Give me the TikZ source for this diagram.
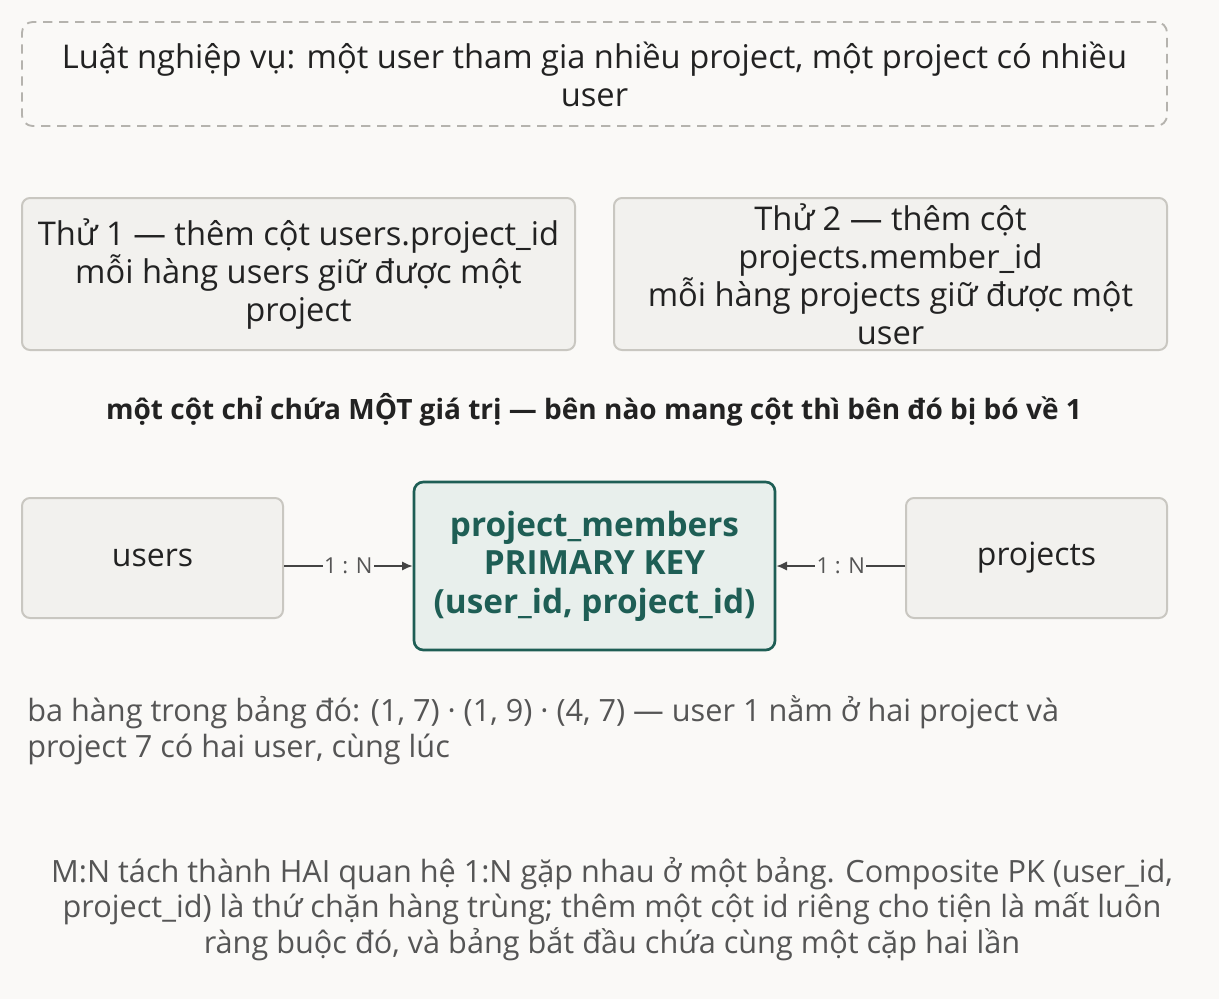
\documentclass[tikz,border=0pt]{standalone}
\usepackage{fontspec}
\setmainfont{Open Sans}
\usetikzlibrary{arrows.meta}
\definecolor{bg}{HTML}{FAF9F7}
\definecolor{bx}{HTML}{F2F1EE}
\definecolor{bd}{HTML}{C9C7C1}
\definecolor{tl}{HTML}{1E5E55}
\definecolor{tf}{HTML}{E8EFEC}
\definecolor{tx}{HTML}{222222}
\definecolor{gr}{HTML}{555555}
\begin{document}
\begin{tikzpicture}[x=0.75pt,y=-0.75pt,
 box/.style={draw=bd,line width=1.5pt,fill=bx,rounded corners=6pt,text=tx,align=center},
 arr/.style={draw=gr!80!black,line width=1.3pt,-{Latex[length=8pt,width=7pt]}},
 lbl/.style={font=\fontsize{16.5}{19}\selectfont,text=gr,fill=bg,inner sep=1pt}]
\fill[bg] (0,0) rectangle (1219,999);
\useasboundingbox (0,0) rectangle (1219,999);
\node[draw=bd!90!black,dash pattern=on 7pt off 5pt,line width=1.4pt,rounded corners=8pt,minimum width=1145*0.75pt,minimum height=104*0.75pt,align=center,font=\fontsize{24.5}{28.5}\selectfont,text=tx] (rule) at (594.5,74) {Luật nghiệp vụ: một user tham gia nhiều project, một project có nhiều\\user};
\node[box,minimum width=553*0.75pt,minimum height=152*0.75pt,font=\fontsize{24.5}{28.5}\selectfont] (t1) at (298.5,274) {Thử 1 — thêm cột users.project\_id\\mỗi hàng users giữ được một\\project};
\node[box,minimum width=553*0.75pt,minimum height=152*0.75pt,font=\fontsize{24.5}{28.5}\selectfont] (t2) at (890.5,274) {Thử 2 — thêm cột\\projects.member\_id\\mỗi hàng projects giữ được một\\user};
\node[font=\bfseries\fontsize{21}{24}\selectfont,text=tx] (note) at (594,410) {một cột chỉ chứa MỘT giá trị — bên nào mang cột thì bên đó bị bó về 1};
\node[box,minimum width=261*0.75pt,minimum height=120*0.75pt,font=\fontsize{24}{28}\selectfont] (users) at (152.5,558) {users};
\node[box,minimum width=261*0.75pt,minimum height=120*0.75pt,font=\fontsize{24}{28}\selectfont] (projects) at (1036.5,558) {projects};
\node[draw=tl,fill=tf,line width=2pt,rounded corners=7pt,minimum width=361*0.75pt,minimum height=168*0.75pt,align=center,text=tl,font=\bfseries\fontsize{25}{29}\selectfont] (pm) at (594.5,566) {project\_members\\PRIMARY KEY\\(user\_id, project\_id)};
\draw[arr] (users.east|-0,566) -- node[lbl]{1 : N} (pm.west|-0,566);
\draw[arr] (projects.west|-0,566) -- node[lbl]{1 : N} (pm.east|-0,566);
\node[anchor=north west,align=left,text=gr,font=\fontsize{23}{27}\selectfont,inner sep=0pt] (ex) at (27,695) {ba hàng trong bảng đó: (1, 7) · (1, 9) · (4, 7) — user 1 nằm ở hai project và\\project 7 có hai user, cùng lúc};
\node[align=center,text=gr,font=\fontsize{23}{26.5}\selectfont] (sum) at (612,909) {M:N tách thành HAI quan hệ 1:N gặp nhau ở một bảng. Composite PK (user\_id,\\project\_id) là thứ chặn hàng trùng; thêm một cột id riêng cho tiện là mất luôn\\ràng buộc đó, và bảng bắt đầu chứa cùng một cặp hai lần};
\end{tikzpicture}
\end{document}
